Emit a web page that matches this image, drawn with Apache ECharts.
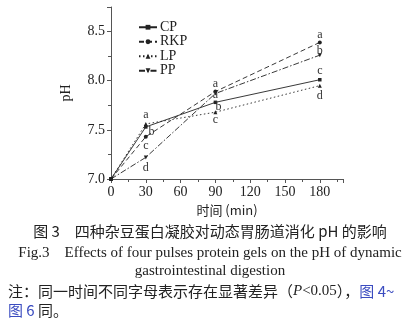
<!DOCTYPE html>
<html><head><meta charset="utf-8">
<script src="https://cdn.jsdelivr.net/npm/echarts@6/dist/echarts.min.js"></script>
<style>html,body{margin:0;padding:0;background:#fff}#c{width:420px;height:328px}</style>
</head><body><div id="c"></div>
<script>
var times = [0, 30, 90, 180];
var seriesNames = ['CP', 'RKP', 'LP', 'PP'];
var cpValues  = [7.00, 7.53, 7.78, 8.01];
var rkpValues = [7.00, 7.43, 7.89, 8.39];
var lpValues  = [7.00, 7.56, 7.68, 7.95];
var ppValues  = [7.00, 7.22, 7.87, 8.26];
var cpLetters  = ['', 'b', 'a', 'c'];
var rkpLetters = ['', 'c', 'a', 'a'];
var lpLetters  = ['', 'a', 'c', 'd'];
var ppLetters  = ['', 'd', 'b', 'b'];
var xTicks = [0, 30, 60, 90, 120, 150, 180];
var yTicks = [7.0, 7.5, 8.0, 8.5];

// label placement (styling only)
var cpPos  = [null, {position:'right', distance:1, offset:[0,5]}, {position:'top', distance:0}, {position:'top', distance:1}];
var rkpPos = [null, {position:'bottom', distance:1}, {position:'top', distance:0}, {position:'top', distance:0}];
var lpPos  = [null, {position:'top', distance:1}, {position:'bottom', distance:0}, {position:'bottom', distance:2}];
var ppPos  = [null, {position:'bottom', distance:2}, {position:'right', distance:0, offset:[-2,13]}, {position:'top', distance:-1, offset:[0,3]}];

function build(vals, letters, pos) {
  return vals.map(function(v, i) {
    var item = {value: [times[i], v]};
    if (letters[i]) {
      item.label = Object.assign({show: true, formatter: letters[i]}, pos[i]);
    }
    return item;
  });
}
var serif = 'Liberation Serif';
var cjk = 'Noto Sans CJK SC';
var lineCol = '#222';
function mk(name, vals, letters, pos, type, symbol, symSize) {
  return {
    name: name, type: 'line', data: build(vals, letters, pos),
    symbol: symbol, symbolSize: symSize, showAllSymbol: true,
    itemStyle: {color: lineCol},
    lineStyle: {color: lineCol, width: 0.9, type: type},
    label: {show: false, color: '#333', fontFamily: serif, fontSize: 12},
    emphasis: {disabled: true}, animation: false
  };
}
var chart = echarts.init(document.getElementById('c'), null, {renderer: 'canvas'});
chart.setOption({
  animation: false,
  grid: {left: 111, right: 77, top: 7, bottom: 149, containLabel: false},
  legend: {
    left: 138, top: 20, orient: 'vertical', itemGap: 0, itemWidth: 18, itemHeight: 6,
    padding: 0,
    textStyle: {fontFamily: serif, fontSize: 14, lineHeight: 14.5, color: '#222', padding: [0,0,0,-2]},
    data: seriesNames
  },
  xAxis: {
    type: 'value', min: 0, max: 200, interval: 30,
    name: '时间 (min)', nameLocation: 'middle', nameGap: 24,
    nameTextStyle: {fontFamily: cjk + ',' + serif, fontSize: 13, color: '#222'},
    axisLine: {lineStyle: {color: '#555', width: 1}},
    axisTick: {show: true, inside: false, length: 4, lineStyle: {color: '#555'}},
    minorTick: {show: true, splitNumber: 2, length: 3, lineStyle: {color: '#555'}},
    splitLine: {show: false},
    axisLabel: {fontFamily: serif, fontSize: 14, color: '#222', margin: 6,
      formatter: function(v){ return xTicks.indexOf(v) >= 0 ? String(v) : ''; }}
  },
  yAxis: {
    type: 'value', min: 7.0, max: 8.75, interval: 0.5,
    name: 'pH', nameLocation: 'middle', nameGap: 38, nameRotate: 90,
    nameTextStyle: {fontFamily: serif, fontSize: 14, color: '#222'},
    axisLine: {show: true, lineStyle: {color: '#555', width: 1}},
    axisTick: {show: true, inside: false, length: 4, lineStyle: {color: '#555'}},
    minorTick: {show: true, splitNumber: 2, length: 3, lineStyle: {color: '#555'}},
    splitLine: {show: false},
    axisLabel: {fontFamily: serif, fontSize: 14, color: '#222', margin: 6,
      formatter: function(v){
        for (var i = 0; i < yTicks.length; i++) if (Math.abs(yTicks[i]-v) < 1e-6) return yTicks[i].toFixed(1);
        return '';
      }}
  },
  series: [
    mk('CP', cpValues, cpLetters, cpPos, 'solid', 'rect', 3.5),
    mk('RKP', rkpValues, rkpLetters, rkpPos, [5,3], 'circle', 4),
    mk('LP', lpValues, lpLetters, lpPos, [1.5,2.5], 'triangle', 4),
    mk('PP', ppValues, ppLetters, ppPos, [6,2,1.5,2], 'path://M0,0L10,0L5,10Z', 4)
  ],
  graphic: [
    {type: 'text', left: 'center', top: 224, style: {text: '图 3　四种杂豆蛋白凝胶对动态胃肠道消化 pH 的影响', font: '15px "Noto Sans CJK SC"', fill: '#222'}},
    {type: 'text', left: 'center', top: 246, style: {text: 'Fig.3    Effects of four pulses protein gels on the pH of dynamic', font: '15px "Liberation Serif"', fill: '#222'}},
    {type: 'text', left: 'center', top: 264, style: {text: 'gastrointestinal digestion', font: '15px "Liberation Serif"', fill: '#222'}},
    {type: 'text', left: 8, top: 284, style: {rich: {
        n: {font: '15px "Noto Sans CJK SC"', fill: '#222'},
        i: {font: 'italic 15px "Liberation Serif"', fill: '#222'},
        s: {font: '15px "Liberation Serif"', fill: '#222'},
        b: {font: '15px "Noto Sans CJK SC"', fill: '#3b4cc0'}
      }, text: '{n|注：同一时间不同字母表示存在显著差异（}{i|P}{s|<0.05}{n|），}{b|图 4~}'}},
    {type: 'text', left: 8, top: 303, style: {rich: {
        n: {font: '15px "Noto Sans CJK SC"', fill: '#222'},
        b: {font: '15px "Noto Sans CJK SC"', fill: '#3b4cc0'}
      }, text: '{b|图 6}{n| 同。}'}}
  ]
});
</script></body></html>
